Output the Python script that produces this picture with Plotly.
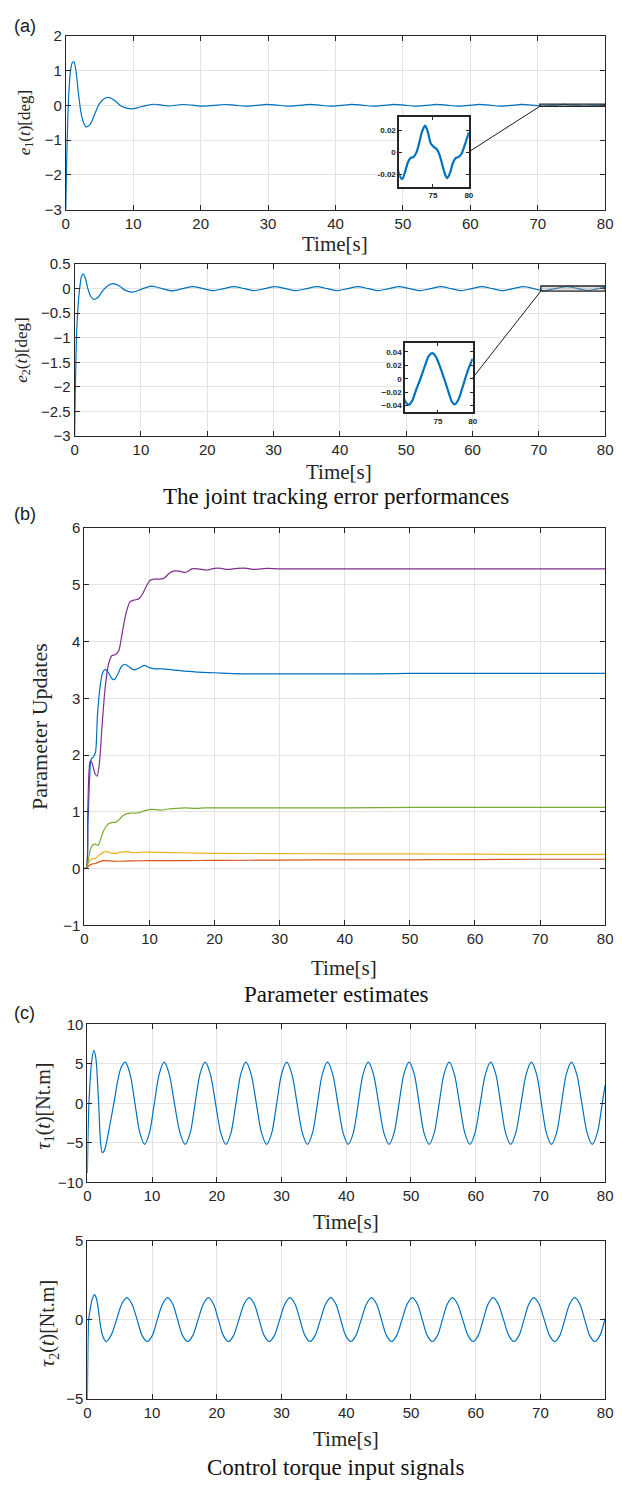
import plotly.graph_objects as go

# ---------------- data ----------------
time_ticks = [0, 10, 20, 30, 40, 50, 60, 70, 80]

e1_t = [0, 0.1, 0.25, 0.45, 0.7, 0.95, 1.2, 1.5, 1.9, 2.4, 3.0, 3.6, 4.3, 5.0, 5.8, 6.5,
        7.3, 8.2, 9.2, 10.0, 11.0, 12.0, 13.2, 14.4, 15.4, 16.3, 17.2, 18.8, 20.3, 21.9,
        23.5, 25.0, 26.6, 28.2, 29.8, 31.3, 32.9, 34.5, 36.1, 37.6, 39.2, 40.8, 42.4,
        43.9, 45.5, 47.1, 48.7, 50.2, 51.8, 53.4, 55.0, 56.5, 58.1, 59.7, 61.3, 62.8,
        64.4, 66.0, 67.6, 69.0,
        70.0, 70.35, 70.7, 71.1, 71.5, 71.9, 72.3, 72.7, 73.1, 73.5, 73.9, 74.3, 74.7,
        75.1, 75.5, 75.9, 76.3, 76.7, 77.0, 77.4, 77.8, 78.2, 78.6, 79.0, 79.4, 79.8, 80.0]
e1_v = [-3.0, -1.9, -0.7, 0.35, 1.0, 1.22, 1.25, 1.0, 0.3, -0.35, -0.62, -0.55, -0.25, 0.05,
        0.2, 0.22, 0.13, -0.02, -0.09, -0.1, -0.05, 0.0, 0.03, 0.0, -0.02, 0.0, 0.022,
        0.004, -0.023, -0.004, 0.023, 0.004, -0.023, -0.004, 0.024, 0.004, -0.024, -0.004,
        0.024, 0.004, -0.024, -0.004, 0.024, 0.004, -0.024, -0.004, 0.024, 0.004, -0.024,
        -0.004, 0.024, 0.004, -0.024, -0.004, 0.024, 0.004, -0.024, -0.004, 0.024, 0.006,
        -0.012, -0.021, -0.024, -0.018, -0.009, -0.005, -0.004, 0.0, 0.009, 0.019, 0.024,
        0.018, 0.008, 0.005, 0.003, -0.002, -0.011, -0.020, -0.023, -0.018, -0.009, -0.005,
        -0.004, -0.001, 0.006, 0.014, 0.018]

e2_t = [0, 0.08, 0.2, 0.35, 0.55, 0.8, 1.05, 1.3, 1.6, 2.0, 2.4, 2.9, 3.5, 4.2, 5.0, 5.9,
        6.8, 7.6, 8.7, 10.1, 11.6, 13.2, 14.7, 16.3, 17.8, 19.4, 20.9, 22.5, 24.0, 25.6,
        27.1, 28.7, 30.2, 31.8, 33.4, 35.0, 36.5, 38.1, 39.6, 41.2, 42.7, 44.3, 45.8, 47.4,
        48.9, 50.5, 52.1, 53.7, 55.2, 56.8, 58.3, 59.9, 61.4, 63.0, 64.5, 66.1, 67.7, 69.2,
        70.0, 70.4, 70.8, 71.3, 71.9, 72.5, 73.1, 73.7, 74.2, 74.7, 75.3, 75.9, 76.5, 77.0,
        77.4, 77.9, 78.5, 79.0, 79.5, 80.0]
e2_v = [-3.0, -2.3, -1.4, -0.75, -0.3, 0.05, 0.25, 0.3, 0.22, 0.0, -0.15, -0.22, -0.18,
        -0.05, 0.06, 0.1, 0.05, -0.03, -0.07, -0.01, 0.05, 0.0, -0.045, 0.0, 0.042, 0.0,
        -0.04, 0.0, 0.04, 0.0, -0.04, 0.0, 0.04, 0.0, -0.04, 0.0, 0.04, 0.0, -0.04, 0.0,
        0.04, 0.0, -0.04, 0.0, 0.04, 0.0, -0.04, 0.0, 0.04, 0.0, -0.04, 0.0, 0.04, 0.0,
        -0.04, 0.0, 0.04, 0.0,
        -0.026, -0.035, -0.039, -0.033, -0.016, 0.0, 0.018, 0.034, 0.038, 0.033, 0.018,
        0.0, -0.019, -0.034, -0.038, -0.032, -0.014, 0.003, 0.018, 0.030]

p1_t = [0, 0.3, 0.55, 0.8, 1.05, 1.4, 1.7, 2.0, 2.4, 2.8, 3.2, 3.7, 4.2, 4.6, 5.1, 5.7,
        6.25, 6.9, 7.6, 8.3, 9.2, 10.0, 10.8, 12.0, 13.5, 15.5, 17.5, 20, 22, 25, 30, 35,
        40, 45, 50, 55, 60, 65, 70, 75, 80]
p1_v = [0, 0.02, 0.8, 1.6, 1.93, 1.97, 2.05, 2.7, 3.2, 3.45, 3.51, 3.45, 3.35, 3.33, 3.42,
        3.56, 3.60, 3.55, 3.50, 3.53, 3.58, 3.54, 3.52, 3.52, 3.50, 3.48, 3.46, 3.45, 3.44,
        3.43, 3.43, 3.43, 3.43, 3.43, 3.44, 3.44, 3.44, 3.44, 3.44, 3.44, 3.44]

p2_t = [0, 0.3, 0.5, 0.7, 0.9, 1.2, 1.6, 1.95, 2.3, 2.7, 3.2, 3.7, 4.2, 4.8, 5.3, 5.8, 6.4,
        7.0, 7.6, 8.3, 8.9, 9.5, 10.1, 10.8, 11.6, 12.3, 13.0, 13.7, 14.5, 15.3, 15.8, 16.5,
        17.5, 18.8, 20.0, 21.0, 22.0, 23.5, 25, 26, 28, 30, 35, 40, 45, 50, 55, 60, 65, 70,
        75, 80]
p2_v = [0, 0.02, 0.9, 1.7, 1.9, 1.85, 1.68, 1.63, 1.85, 2.5, 3.2, 3.6, 3.75, 3.77, 3.85,
        4.15, 4.5, 4.7, 4.73, 4.75, 4.83, 4.97, 5.08, 5.1, 5.1, 5.12, 5.2, 5.24, 5.24, 5.22,
        5.23, 5.28, 5.28, 5.26, 5.29, 5.29, 5.27, 5.29, 5.29, 5.27, 5.29, 5.28, 5.28, 5.28,
        5.28, 5.28, 5.28, 5.28, 5.28, 5.28, 5.28, 5.28]

p3_t = [0, 0.3, 0.6, 0.9, 1.3, 1.7, 2.1, 2.5, 3.0, 3.6, 4.2, 4.8, 5.3, 5.9, 6.5, 7.3, 8.2,
        9.0, 9.9, 11.0, 11.8, 12.8, 14.0, 15.5, 17.0, 18.5, 20, 25, 30, 40, 50, 60, 70, 80]
p3_v = [0, 0.02, 0.15, 0.33, 0.42, 0.43, 0.41, 0.52, 0.68, 0.78, 0.81, 0.82, 0.86, 0.93,
        0.97, 0.98, 0.98, 1.01, 1.04, 1.04, 1.03, 1.05, 1.06, 1.07, 1.06, 1.07, 1.07, 1.07,
        1.07, 1.07, 1.08, 1.08, 1.08, 1.08]

p4_t = [0, 0.3, 0.7, 1.1, 1.7, 2.3, 3.0, 3.5, 4.2, 4.9, 5.6, 6.3, 7.0, 7.8, 9.0, 10, 12,
        15, 20, 30, 40, 50, 60, 70, 80]
p4_v = [0, 0.02, 0.12, 0.17, 0.18, 0.24, 0.29, 0.30, 0.27, 0.27, 0.29, 0.30, 0.29, 0.28,
        0.29, 0.29, 0.285, 0.28, 0.27, 0.265, 0.26, 0.26, 0.255, 0.25, 0.25]

p5_t = [0, 0.3, 0.7, 1.1, 1.7, 2.3, 2.9, 4, 5.5, 7, 10, 15, 20, 30, 40, 50, 60, 70, 80]
p5_v = [0, 0.01, 0.05, 0.08, 0.09, 0.12, 0.14, 0.135, 0.13, 0.135, 0.14, 0.14, 0.145, 0.15,
        0.155, 0.155, 0.16, 0.165, 0.165]

tau1_t = [0, 0.08, 0.2, 0.4, 0.65, 1.0, 1.3, 1.55, 1.8, 2.0, 2.3, 2.6, 3.0, 3.6, 4.2, 4.7,
          5.2, 5.85, 6.6, 7.35, 8.1, 8.85, 9.6, 10.35, 11.1, 11.86, 12.65, 13.45, 14.3,
          15.1, 15.9, 16.65, 17.4, 18.2, 19.0, 19.8, 20.6, 21.4, 22.2, 22.95, 23.7, 24.5,
          25.3, 26.1, 26.9, 27.7, 28.5, 29.25, 30.0, 30.8, 31.6, 32.4, 33.2, 34.0, 34.8,
          35.55, 36.3, 37.1, 37.9, 38.7, 39.5, 40.3, 41.1, 41.85, 42.6, 43.4, 44.2, 45.0,
          45.8, 46.6, 47.4, 48.15, 48.9, 49.7, 50.5, 51.25, 52.0, 52.8, 53.6, 54.35, 55.1,
          55.9, 56.7, 57.5, 58.3, 59.1, 59.9, 60.7, 61.5, 62.3, 63.1, 63.85, 64.6, 65.4,
          66.2, 67.0, 67.8, 68.6, 69.4, 70.15, 70.9, 71.7, 72.5, 73.25, 74.0, 74.8, 75.6,
          76.4, 77.2, 78.0, 78.8, 79.55, 80.0]
tau1_v = [-8.8, -5.0, -1.0, 2.5, 5.2, 6.7, 5.8, 3.0, -1.0, -4.5, -6.2, -6.0, -4.8, -2.2, 0.5,
          2.9, 4.5, 5.2,
          3.7, 0, -3.7, -5.2, -3.7, 0, 3.7, 5.2, 3.7, 0, -3.7, -5.2, -3.7, 0, 3.7, 5.2,
          3.7, 0, -3.7, -5.2, -3.7, 0, 3.7, 5.2, 3.7, 0, -3.7, -5.2, -3.7, 0, 3.7, 5.2,
          3.7, 0, -3.7, -5.2, -3.7, 0, 3.7, 5.2, 3.7, 0, -3.7, -5.2, -3.7, 0, 3.7, 5.2,
          3.7, 0, -3.7, -5.2, -3.7, 0, 3.7, 5.2, 3.7, 0, -3.7, -5.2, -3.7, 0, 3.7, 5.2,
          3.7, 0, -3.7, -5.2, -3.7, 0, 3.7, 5.2, 3.7, 0, -3.7, -5.2, -3.7, 0, 3.7, 5.2,
          3.7, 0, -3.7, -5.2, -3.7, 0, 3.7, 5.2, 3.7, 0, -3.7, -5.2, -3.7, 0, 2.3]

tau2_t = [0, 0.05, 0.12, 0.2, 0.45, 0.75, 1.1, 1.4, 1.7, 2.0, 2.4, 2.9, 3.7, 4.5, 5.3, 6.1,
          6.9, 7.7, 8.45, 9.25, 10.05, 10.8, 11.6, 12.4, 13.2, 13.95, 14.7, 15.5, 16.3,
          17.1, 17.9, 18.7, 19.5, 20.25, 21.0, 21.8, 22.6, 23.4, 24.2, 25.0, 25.8, 26.55,
          27.3, 28.1, 28.9, 29.7, 30.5, 31.3, 32.1, 32.85, 33.6, 34.4, 35.2, 36.0, 36.8,
          37.6, 38.4, 39.15, 39.9, 40.7, 41.5, 42.3, 43.1, 43.9, 44.7, 45.45, 46.2, 47.0,
          47.8, 48.6, 49.4, 50.2, 51.0, 51.75, 52.5, 53.3, 54.1, 54.85, 55.6, 56.4, 57.2,
          58.0, 58.8, 59.6, 60.4, 61.15, 61.9, 62.7, 63.5, 64.3, 65.1, 65.9, 66.7, 67.45,
          68.2, 69.0, 69.8, 70.6, 71.4, 72.2, 73.0, 73.75, 74.5, 75.3, 76.1, 76.85, 77.6,
          78.4, 79.2, 80.0]
tau2_v = [-5.2, -3.0, -1.0, 0.0, 0.7, 1.3, 1.6, 1.35, 0.65, -0.3, -1.05, -1.37, -0.95, 0,
          0.98, 1.4,
          0.98, 0, -0.98, -1.37, -0.98, 0, 0.98, 1.4, 0.98, 0, -0.98, -1.37, -0.98, 0, 0.98,
          1.4, 0.98, 0, -0.98, -1.37, -0.98, 0, 0.98, 1.4, 0.98, 0, -0.98, -1.37, -0.98, 0,
          0.98, 1.4, 0.98, 0, -0.98, -1.37, -0.98, 0, 0.98, 1.4, 0.98, 0, -0.98, -1.37,
          -0.98, 0, 0.98, 1.4, 0.98, 0, -0.98, -1.37, -0.98, 0, 0.98, 1.4, 0.98, 0, -0.98,
          -1.37, -0.98, 0, 0.98, 1.4, 0.98, 0, -0.98, -1.37, -0.98, 0, 0.98, 1.4, 0.98, 0,
          -0.98, -1.37, -0.98, 0, 0.98, 1.4, 0.98, 0, -0.98, -1.37, -0.98, 0, 0.98, 1.4,
          0.98, 0, -0.98, -1.37, -0.98, 0.1]

# zoom windows shown in the insets
zoom_x = [70.3, 80]
zoom1_y = [-0.031, 0.032]
zoom2_y = [-0.05, 0.053]

# ---------------- layout helpers ----------------
W, H = 622, 1487
BLUE = '#0072BD'
C_RED, C_YEL, C_PUR, C_GRN = '#D95319', '#EDB120', '#7E2F8E', '#77AC30'
AX = '#262626'
GRID = '#e3e3e3'
SANS = 'Liberation Sans, Arial, sans-serif'
SERIF = 'Liberation Serif, Times New Roman, serif'


def xdom(l, r):
    return [l / W, r / W]


def ydom(t, b):
    return [1 - b / H, 1 - t / H]


# panel boxes in pixels: left, right, top, bottom
P1 = (63, 613, 27, 203)
P2 = (72, 613, 258, 432)
P3 = (82, 613, 525, 927)
P4 = (85, 613, 1027, 1187)
P5 = (85, 613, 1246, 1406)
I1 = (403, 474, 109, 180)
I2 = (409, 478, 338, 408)


def base_axis(**kw):
    d = dict(showline=True, linecolor=AX, linewidth=1, mirror='allticks', ticks='inside',
             ticklen=5, tickcolor=AX, tickwidth=1, showgrid=True, gridcolor=GRID,
             gridwidth=1, zeroline=False, ticklabeloverflow='allow',
             tickfont=dict(family=SANS, size=15, color=AX))
    d.update(kw)
    return d


def inset_axis(**kw):
    d = dict(showline=True, linecolor=AX, linewidth=1.6, mirror='allticks', ticks='inside',
             ticklen=3, tickcolor=AX, showgrid=False, zeroline=False,
             ticklabeloverflow='allow',
             tickfont=dict(family=SANS, size=8, color=AX, weight='bold'))
    d.update(kw)
    return d


fig = go.Figure()

line_main = dict(color=BLUE, width=1.2, shape='spline', smoothing=0.8)
line_inset = dict(color=BLUE, width=2.2, shape='spline', smoothing=0.8)

fig.add_trace(go.Scatter(x=e1_t, y=e1_v, mode='lines', line=line_main, xaxis='x', yaxis='y'))
fig.add_trace(go.Scatter(x=e2_t, y=e2_v, mode='lines', line=line_main, xaxis='x2', yaxis='y2'))
for tt, vv, cc in [(p1_t, p1_v, BLUE), (p5_t, p5_v, C_RED), (p4_t, p4_v, C_YEL),
                   (p2_t, p2_v, C_PUR), (p3_t, p3_v, C_GRN)]:
    fig.add_trace(go.Scatter(x=tt, y=vv, mode='lines',
                             line=dict(color=cc, width=1.2, shape='spline', smoothing=0.8),
                             xaxis='x3', yaxis='y3'))
fig.add_trace(go.Scatter(x=tau1_t, y=tau1_v, mode='lines', line=line_main, xaxis='x4', yaxis='y4'))
fig.add_trace(go.Scatter(x=tau2_t, y=tau2_v, mode='lines', line=line_main, xaxis='x5', yaxis='y5'))
fig.add_trace(go.Scatter(x=e1_t, y=e1_v, mode='lines', line=line_inset, xaxis='x6', yaxis='y6'))
fig.add_trace(go.Scatter(x=e2_t, y=e2_v, mode='lines', line=line_inset, xaxis='x7', yaxis='y7'))

xt = dict(range=[0, 80], tickvals=time_ticks)
fig.update_layout(
    width=W, height=H, margin=dict(l=0, r=0, t=0, b=0),
    paper_bgcolor='white', plot_bgcolor='white', showlegend=False,
    xaxis=base_axis(domain=xdom(P1[0], P1[1]), anchor='y', **xt),
    yaxis=base_axis(domain=ydom(P1[2], P1[3]), anchor='x', range=[-3, 2], dtick=1),
    xaxis2=base_axis(domain=xdom(P2[0], P2[1]), anchor='y2', **xt),
    yaxis2=base_axis(domain=ydom(P2[2], P2[3]), anchor='x2', range=[-3, 0.5], dtick=0.5),
    xaxis3=base_axis(domain=xdom(P3[0], P3[1]), anchor='y3', **xt),
    yaxis3=base_axis(domain=ydom(P3[2], P3[3]), anchor='x3', range=[-1, 6], dtick=1),
    xaxis4=base_axis(domain=xdom(P4[0], P4[1]), anchor='y4', **xt),
    yaxis4=base_axis(domain=ydom(P4[2], P4[3]), anchor='x4', range=[-10, 10], dtick=5),
    xaxis5=base_axis(domain=xdom(P5[0], P5[1]), anchor='y5', **xt),
    yaxis5=base_axis(domain=ydom(P5[2], P5[3]), anchor='x5', range=[-5, 5], dtick=5),
    xaxis6=inset_axis(domain=xdom(I1[0], I1[1]), anchor='y6', range=zoom_x, tickvals=[75, 80]),
    yaxis6=inset_axis(domain=ydom(I1[2], I1[3]), anchor='x6', range=zoom1_y,
                      tickvals=[-0.02, 0, 0.02], ticktext=['-0.02', '0', '0.02']),
    xaxis7=inset_axis(domain=xdom(I2[0], I2[1]), anchor='y7', range=zoom_x, tickvals=[75, 80]),
    yaxis7=inset_axis(domain=ydom(I2[2], I2[3]), anchor='x7', range=zoom2_y,
                      tickvals=[-0.04, -0.02, 0, 0.02, 0.04]),
)


def data_to_paper(px_box, xr, yr, x, y):
    l, r, t, b = px_box
    fx = (l + (x - xr[0]) / (xr[1] - xr[0]) * (r - l)) / W
    fy = 1 - (b - (y - yr[0]) / (yr[1] - yr[0]) * (b - t)) / H
    return fx, fy


shapes = []
for box, yr, zy, ibox, refs in [(P1, [-3, 2], zoom1_y, I1, ('x', 'y')),
                                (P2, [-3, 0.5], zoom2_y, I2, ('x2', 'y2'))]:
    shapes.append(dict(type='rect', xref=refs[0], yref=refs[1], x0=zoom_x[0], x1=zoom_x[1],
                       y0=zy[0], y1=zy[1], line=dict(color=AX, width=1.3),
                       fillcolor='rgba(160,160,160,0.35)', layer='above'))
    sx, sy = data_to_paper(box, [0, 80], yr, zoom_x[0], zy[0])
    ex = ibox[1] / W
    ey = 1 - (ibox[2] + ibox[3]) / 2 / H
    shapes.append(dict(type='line', xref='paper', yref='paper', x0=sx, y0=sy, x1=ex, y1=ey,
                       line=dict(color='#1a1a1a', width=1), layer='above'))
fig.update_layout(shapes=shapes)


def ann(text, x, y, size, family=SERIF, color=AX, angle=0):
    return dict(text=text, x=x / W, y=1 - y / H, xref='paper', yref='paper',
                xanchor='center', yanchor='middle', showarrow=False, textangle=angle,
                font=dict(family=family, size=size, color=color))


anns = [
    ann('(a)', 21, 17, 18, family=SANS, color='#1a1a1a'),
    ann('(b)', 21, 511, 18, family=SANS, color='#1a1a1a'),
    ann('(c)', 21, 1016, 18, family=SANS, color='#1a1a1a'),
    ann('<i>e</i><sub>1</sub>(<i>t</i>)[deg]', 22, 115, 17, angle=-90),
    ann('<i>e</i><sub>2</sub>(<i>t</i>)[deg]', 19, 345, 17, angle=-90),
    ann('Parameter Updates', 36, 726, 22, angle=-90),
    ann('<i>τ</i><sub>1</sub>(<i>t</i>)[Nt.m]', 41, 1110, 20, angle=-90),
    ann('<i>τ</i><sub>2</sub>(<i>t</i>)[Nt.m]', 46, 1330, 20, angle=-90),
    ann('Time[s]', 338, 238, 21),
    ann('Time[s]', 342, 468, 21),
    ann('Time[s]', 347, 970, 21),
    ann('Time[s]', 349, 1227, 21),
    ann('Time[s]', 349, 1447, 21),
    ann('The joint tracking error performances', 339, 493, 23, color='#111111'),
    ann('Parameter estimates', 339, 997, 23, color='#111111'),
    ann('Control torque input signals', 339, 1475, 23, color='#111111'),
]
fig.update_layout(annotations=anns)

fig.write_html('out.html', config={'displayModeBar': False},
               post_script="document.body.style.margin='0';"
                           "document.body.style.overflow='hidden';")
